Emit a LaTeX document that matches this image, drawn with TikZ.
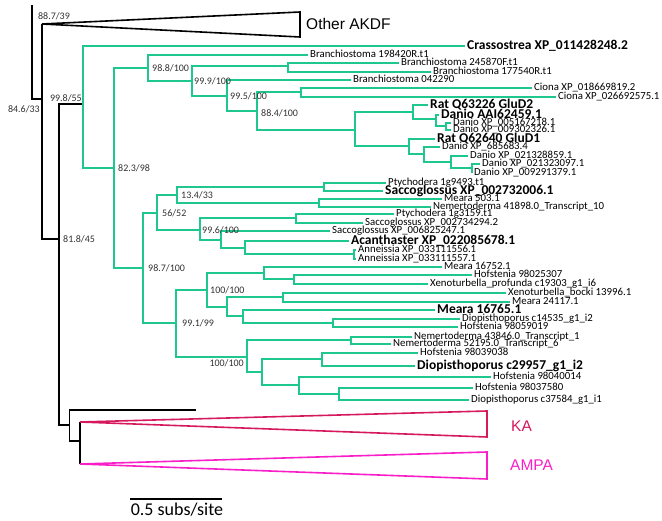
\documentclass[tikz,border=0pt]{standalone}
\usepackage{fontspec}
\setmainfont{Carlito}
\newfontfamily\arialfam{Liberation Sans}
\usepackage{tikz}
\usetikzlibrary{positioning}

\definecolor{cladegreen}{RGB}{30,200,140}
\definecolor{kacol}{RGB}{214,24,92}
\definecolor{ampacol}{RGB}{250,30,200}
\definecolor{bsgray}{RGB}{50,50,50}

\begin{document}
\begin{tikzpicture}[x=1pt, y=-1pt, line join=miter,
  br/.style={cladegreen, line width=2pt},
  bk/.style={black, line width=1.8pt},
  tip/.style={anchor=west, inner xsep=2pt, inner ysep=0pt, text height=7pt, text depth=1.5pt,
    font=\fontsize{10.8}{12}\selectfont},
  tipb/.style={tip, text height=9pt, text depth=2pt, font=\fontsize{13.5}{15}\selectfont\bfseries},
  bs/.style={inner sep=0pt, text=bsgray, font=\fontsize{10}{12}\selectfont},
  big/.style={inner sep=0pt, font=\fontsize{18}{20}\selectfont},
  grp/.style={inner sep=0pt, anchor=west, font=\arialfam\fontsize{15.5}{18}\selectfont}]
  \useasboundingbox (0,0) rectangle (662,521);

  % backbone and outgroups
  \coordinate (root) at (32,5);
  \coordinate (n1) at (42,99);
  \coordinate (akdf) at (42,24);
  \coordinate (n2) at (59,239);
  \coordinate (k1) at (69.5,425);
  \coordinate (kx) at (196,410);
  \coordinate (k2) at (80,441);
  \coordinate (kaapex) at (80,422);
  \coordinate (ampaapex) at (80,464);

  % green clade, upper part
  \coordinate (g0) at (83,104);
  \coordinate (g1) at (114,168);
  \coordinate (g2) at (148,68);
  \coordinate (g3) at (192,81);
  \coordinate (g4) at (288,66.5);
  \coordinate (g5) at (227,96);
  \coordinate (g6) at (257,111);
  \coordinate (g7) at (301,92.5);
  \coordinate (g8) at (355,130);
  \coordinate (g9) at (413,112);
  \coordinate (g10) at (436,119);
  \coordinate (g10b) at (446,126.5);
  \coordinate (g12) at (409,146);
  \coordinate (g13) at (424,154);
  \coordinate (g14) at (451,162);
  \coordinate (g15) at (472,168.5);
  % green clade, middle part
  \coordinate (g11) at (143,268);
  \coordinate (g16) at (157,213);
  \coordinate (g17) at (177,195);
  \coordinate (g18) at (324,187);
  \coordinate (g19) at (319,203);
  \coordinate (g20) at (200,230);
  \coordinate (g21) at (296,218.5);
  \coordinate (g22) at (221,240);
  \coordinate (g23) at (245,248);
  \coordinate (g24) at (354,254.5);
  % green clade, lower part
  \coordinate (g30) at (176,323);
  \coordinate (g31) at (207,290);
  \coordinate (g32) at (264,273);
  \coordinate (g33) at (294,279.5);
  \coordinate (g34) at (227,307);
  \coordinate (g35) at (283,297.5);
  \coordinate (g36) at (243,316.5);
  \coordinate (g37) at (333,323);
  \coordinate (g40) at (247,357);
  \coordinate (g41) at (351,340.5);
  \coordinate (g42) at (262,372.5);
  \coordinate (g43) at (322,359.5);
  \coordinate (g44) at (299,385.5);
  \coordinate (g45) at (339,394);

  % leaves
  \node[tipb] (crass) at (465,46) {Crassostrea XP\_011428248.2};
  \node[tip] (bra1) at (308,55) {Branchiostoma 198420R.t1};
  \node[tip] (bra2) at (399,63) {Branchiostoma 245870F.t1};
  \node[tip] (bra3) at (431,72) {Branchiostoma 177540R.t1};
  \node[tip] (bra4) at (351,80) {Branchiostoma 042290};
  \node[tip] (cio1) at (532,88) {Ciona XP\_018669819.2};
  \node[tip] (cio2) at (556,97) {Ciona XP\_026692575.1};
  \node[tipb] (rat2) at (428,105) {Rat Q63226 GluD2};
  \node[tipb] (dan1) at (439,115) {Danio AAI62459.1};
  \node[tip] (dan2) at (451,123) {Danio XP\_005167218.1};
  \node[tip] (dan3) at (451,130) {Danio XP\_009302326.1};
  \node[tipb] (rat1) at (435,139) {Rat Q62640 GluD1};
  \node[tip] (dan4) at (440,147) {Danio XP\_685683.4};
  \node[tip] (dan5) at (468,156) {Danio XP\_021328859.1};
  \node[tip] (dan6) at (480,164) {Danio XP\_021323097.1};
  \node[tip] (dan7) at (472,173) {Danio XP\_009291379.1};
  \node[tip] (pty1) at (386,183) {Ptychodera 1g9493.t1};
  \node[tipb] (sac1) at (383,191) {Saccoglossus XP\_002732006.1};
  \node[tip] (mea1) at (442,199) {Meara 503.1};
  \node[tip] (nem1) at (431,207) {Nemertoderma 41898.0\_Transcript\_10};
  \node[tip] (pty2) at (394,214) {Ptychodera 1g3159.t1};
  \node[tip] (sac2) at (363,223) {Saccoglossus XP\_002734294.2};
  \node[tip] (sac3) at (330,231) {Saccoglossus XP\_006825247.1};
  \node[tipb] (aca) at (349,241) {Acanthaster XP\_022085678.1};
  \node[tip] (ann1) at (356,250) {Anneissia XP\_033111556.1};
  \node[tip] (ann2) at (356,259) {Anneissia XP\_033111557.1};
  \node[tip] (mea2) at (442,267) {Meara 16752.1};
  \node[tip] (hof1) at (472,275) {Hofstenia 98025307};
  \node[tip] (xen1) at (428,284) {Xenoturbella\_profunda c19303\_g1\_i6};
  \node[tip] (xen2) at (506,293) {Xenoturbella\_bocki 13996.1};
  \node[tip] (mea3) at (510,302) {Meara 24117.1};
  \node[tipb] (mea4) at (435,310) {Meara 16765.1};
  \node[tip] (dio1) at (460,319) {Diopisthoporus c14535\_g1\_i2};
  \node[tip] (hof2) at (458,327) {Hofstenia 98059019};
  \node[tip] (nem2) at (412,337) {Nemertoderma 43846.0\_Transcript\_1};
  \node[tip] (nem3) at (391,344) {Nemertoderma 52195.0\_Transcript\_6};
  \node[tip] (hof3) at (418,353) {Hofstenia 98039038};
  \node[tipb] (dio2) at (415,366) {Diopisthoporus c29957\_g1\_i2};
  \node[tip] (hof4) at (491,377) {Hofstenia 98040014};
  \node[tip] (hof5) at (473,388) {Hofstenia 98037580};
  \node[tip] (dio3) at (469,400) {Diopisthoporus c37584\_g1\_i1};

  % black branches
  \draw[bk] (root) |- (n1);
  \draw[bk] (n1) |- (akdf) (n1) |- (n2);
  \draw[bk] (n2) |- (g0) (n2) |- (k1);
  \draw[bk] (k1) |- (kx) (k1) |- (k2);
  \draw[bk] (k2) |- (kaapex) (k2) |- (ampaapex);

  % collapsed clades
  \draw[black, line width=1.6pt] (akdf) -- (300,12) -- (300,37) -- cycle;
  \draw[kacol, line width=1.6pt] (kaapex) -- (487,411) -- (487,437) -- cycle;
  \draw[ampacol, line width=1.6pt] (ampaapex) -- (487,452) -- (487,479) -- cycle;
  \node[grp] (akdflab) at (306,24) {Other AKDF};
  \node[grp, text=kacol] (kalab) at (511,426) {KA};
  \node[grp, text=ampacol] (ampalab) at (510,465) {AMPA};

  % green branches
  \draw[br] (g0) |- (crass) (g0) |- (g1);
  \draw[br] (g1) |- (g2) (g1) |- (g11);
  \draw[br] (g2) |- (bra1) (g2) |- (g3);
  \draw[br] (g3) |- (g4) (g3) |- (g5);
  \draw[br] (g4) |- (bra2) (g4) |- (bra3);
  \draw[br] (g5) |- (bra4) (g5) |- (g6);
  \draw[br] (g6) |- (g7) (g6) |- (g8);
  \draw[br] (g7) |- (cio1) (g7) |- (cio2);
  \draw[br] (g8) |- (g9) (g8) |- (g12);
  \draw[br] (g9) |- (rat2) (g9) |- (g10);
  \draw[br] (g10) |- (dan1) (g10) |- (g10b);
  \draw[br] (g10b) |- (dan2) (g10b) |- (dan3);
  \draw[br] (g12) |- (rat1) (g12) |- (g13);
  \draw[br] (g13) |- (dan4) (g13) |- (g14);
  \draw[br] (g14) |- (dan5) (g14) |- (g15);
  \draw[br] (g15) |- (dan6) (g15) |- (dan7);
  \draw[br] (g11) |- (g16) (g11) |- (g30);
  \draw[br] (g16) |- (g17) (g16) |- (g20);
  \draw[br] (g17) |- (g18) (g17) |- (g19);
  \draw[br] (g18) |- (pty1) (g18) |- (sac1);
  \draw[br] (g19) |- (mea1) (g19) |- (nem1);
  \draw[br] (g20) |- (g21) (g20) |- (g22);
  \draw[br] (g21) |- (pty2) (g21) |- (sac2);
  \draw[br] (g22) |- (sac3) (g22) |- (g23);
  \draw[br] (g23) |- (aca) (g23) |- (g24);
  \draw[br] (g24) |- (ann1) (g24) |- (ann2);
  \draw[br] (g30) |- (g31) (g30) |- (g40);
  \draw[br] (g31) |- (g32) (g31) |- (g34);
  \draw[br] (g32) |- (mea2) (g32) |- (g33);
  \draw[br] (g33) |- (hof1) (g33) |- (xen1);
  \draw[br] (g34) |- (g35) (g34) |- (g36);
  \draw[br] (g35) |- (xen2) (g35) |- (mea3);
  \draw[br] (g36) |- (mea4) (g36) |- (g37);
  \draw[br] (g37) |- (dio1) (g37) |- (hof2);
  \draw[br] (g40) |- (g41) (g40) |- (g42);
  \draw[br] (g41) |- (nem2) (g41) |- (nem3);
  \draw[br] (g42) |- (g43) (g42) |- (g44);
  \draw[br] (g43) |- (hof3) (g43) |- (dio2);
  \draw[br] (g44) |- (hof4) (g44) |- (g45);
  \draw[br] (g45) |- (hof5) (g45) |- (dio3);

  % support values
  \node[bs] (s1) at (54,16) {88.7/39};
  \node[bs, below left=6pt and 2pt of n1] (s2) {84.6/33};
  \node[bs, above left=2pt and 1pt of g0] (s3) {99.8/55};
  \node[bs, right=4pt of n2] (s4) {81.8/45};
  \node[bs, right=4pt of g1] (s5) {82.3/98};
  \node[bs, right=4pt of g2] (s6) {98.8/100};
  \node[bs, right=2pt of g3] (s7) {99.9/100};
  \node[bs, right=3pt of g5] (s8) {99.5/100};
  \node[bs, right=4pt of g6, yshift=-2pt] (s9) {88.4/100};
  \node[bs, right=5pt of g11] (s10) {98.7/100};
  \node[bs, right=5pt of g16] (s11) {56/52};
  \node[bs, right=4pt of g17] (s12) {13.4/33};
  \node[bs, right=2pt of g20] (s13) {99.6/100};
  \node[bs, right=6pt of g30] (s14) {99.1/99};
  \node[bs, right=3pt of g31] (s15) {100/100};
  \node[bs, below left=2pt and 3pt of g40] (s16) {100/100};

  % scale bar
  \coordinate (sb1) at (130,499);
  \coordinate (sb2) at (222,499);
  \draw[line width=1.5pt] (sb1) -- (sb2);
  \node[big] (sblab) at (177,510) {0.5 subs/site};
\end{tikzpicture}
\end{document}
